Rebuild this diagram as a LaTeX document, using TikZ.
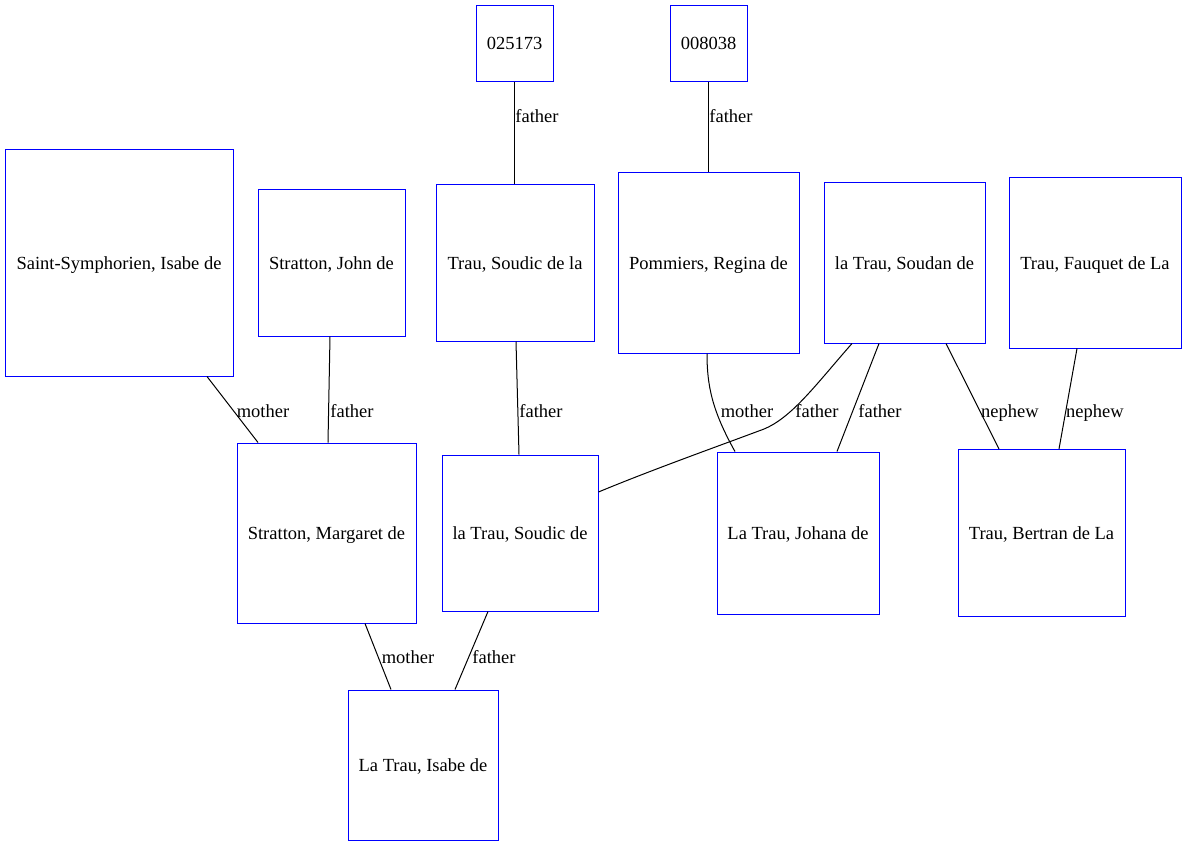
\documentclass[tikz,border=0pt]{standalone}
\usepackage{fontspec}
\setmainfont{Liberation Serif}
\usetikzlibrary{calc}
\begin{document}
\begin{tikzpicture}[x=1pt,y=-1pt,
  box/.style={draw=blue,line width=1pt,inner sep=0pt,text height=15pt,text depth=2pt,font=\fontsize{18.5}{20}\selectfont},
  lbl/.style={font=\fontsize{18.5}{20}\selectfont,inner sep=0pt,text height=15pt,text depth=2pt},
  edge/.style={draw=black,line width=1pt}]
\useasboundingbox (0,0) rectangle (1187,847);
\node[box,minimum width=77pt,minimum height=76pt] (n1) at (514.5,43) {025173};
\node[box,minimum width=77pt,minimum height=76pt] (n2) at (708.5,43) {008038};
\node[box,minimum width=228pt,minimum height=227pt] (ss) at (119,262.5) {Saint-Symphorien, Isabe de};
\node[box,minimum width=147pt,minimum height=147pt] (sj) at (331.5,262.5) {Stratton, John de};
\node[box,minimum width=158pt,minimum height=157pt] (tsl) at (515,262.5) {Trau, Soudic de la};
\node[box,minimum width=181pt,minimum height=181pt] (pr) at (708.5,262.5) {Pommiers, Regina de};
\node[box,minimum width=161pt,minimum height=161pt] (ls) at (904.5,262.5) {la Trau, Soudan de};
\node[box,minimum width=172pt,minimum height=171pt] (tf) at (1095,262.5) {Trau, Fauquet de La};
\node[box,minimum width=179pt,minimum height=180pt] (sm) at (326.5,533) {Stratton, Margaret de};
\node[box,minimum width=156pt,minimum height=156pt] (lsd) at (520,533) {la Trau, Soudic de};
\node[box,minimum width=162pt,minimum height=162pt] (lj) at (798,533) {La Trau, Johana de};
\node[box,minimum width=167pt,minimum height=167pt] (tb) at (1041.5,533) {Trau, Bertran de La};
\node[box,minimum width=150pt,minimum height=150pt] (li) at (423,765) {La Trau, Isabe de};

\draw[edge] ([xshift=-0.5pt]n1.south) -- ([xshift=-1pt]tsl.north);
\node[lbl] (l1) at (537,116) {father};
\draw[edge] ([xshift=-0.5pt]n2.south) -- ([xshift=-0.5pt]pr.north);
\node[lbl] (l2) at (731,116) {father};

\draw[edge] ([xshift=88pt]ss.south) -- ([xshift=-68.5pt]sm.north);
\node[lbl] (l3) at (263,411) {mother};
\draw[edge] ([xshift=-1.5pt]sj.south) -- ([xshift=1.5pt]sm.north);
\node[lbl] (l4) at (352,411) {father};
\draw[edge] ([xshift=1pt]tsl.south) -- ([xshift=-1pt]lsd.north);
\node[lbl] (l5) at (541,411) {father};

\draw[edge] ([xshift=-1.5pt]pr.south) .. controls ([xshift=-1.5pt,yshift=-32pt]pr.south) and ([xshift=3.5pt,yshift=-57pt]pr.south) .. ([xshift=-63pt]lj.north);
\node[lbl] (l6) at (747,411) {mother};

\draw[edge] ([xshift=-52.5pt]ls.south) .. controls ([xshift=-89.5pt,yshift=-42pt]ls.south) and ([xshift=-114.5pt,yshift=-77pt]ls.south) .. ([xshift=-144.5pt,yshift=-87pt]ls.south) .. controls ([xshift=-184.5pt,yshift=-102pt]ls.south) and ([xshift=-254.5pt,yshift=-127pt]ls.south) .. ([yshift=41pt]lsd.east);
\node[lbl] (l7) at (817,411) {father};
\draw[edge] ([xshift=-25.5pt]ls.south) -- ([xshift=39pt]lj.north);
\node[lbl] (l8) at (880,411) {father};
\draw[edge] ([xshift=41.5pt]ls.south) -- ([xshift=-42.5pt]tb.north);
\node[lbl] (l9) at (1010,411) {nephew};
\draw[edge] ([xshift=-18pt]tf.south) -- ([xshift=17.5pt]tb.north);
\node[lbl] (l10) at (1095,411) {nephew};

\draw[edge] ([xshift=38.5pt]sm.south) -- ([xshift=-32pt]li.north);
\node[lbl] (l11) at (408,657) {mother};
\draw[edge] ([xshift=-32pt]lsd.south) -- ([xshift=32pt]li.north);
\node[lbl] (l12) at (494,657) {father};
\end{tikzpicture}
\end{document}
